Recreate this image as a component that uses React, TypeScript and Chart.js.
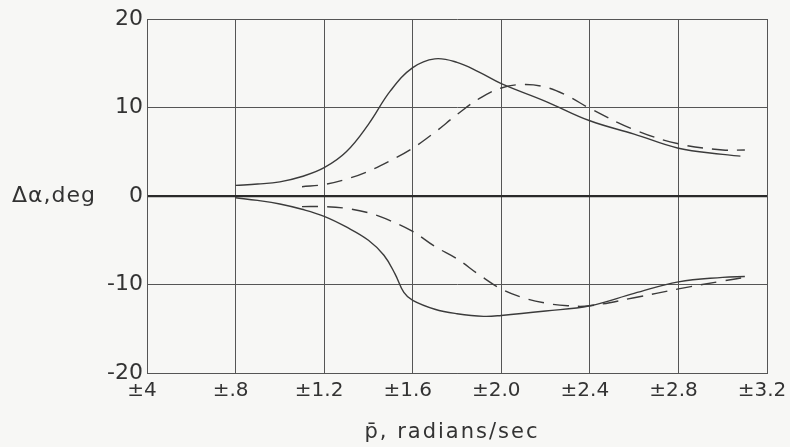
import React, { useEffect, useRef } from "react";
import { Chart, registerables } from "chart.js";

Chart.register(...registerables);

const xTickLabels = ["±4", "±.8", "±1.2", "±1.6", "±2.0", "±2.4", "±2.8", "±3.2"];
const yTickLabels: Record<string, string> = { "20": "20", "10": "10", "0": "0", "-10": "-10", "-20": "-20" };

const upperSolidX = [0.8, 0.9, 1.0, 1.1, 1.2, 1.3, 1.4, 1.5, 1.6, 1.7, 1.8, 1.9, 2.0, 2.2, 2.4, 2.6, 2.8, 3.0, 3.08];
const upperSolidY = [1.2, 1.35, 1.6, 2.2, 3.2, 5.0, 8.1, 11.9, 14.5, 15.5, 15.1, 14.0, 12.7, 10.7, 8.5, 7.0, 5.4, 4.7, 4.5];

const upperDashX = [1.1, 1.2, 1.3, 1.4, 1.5, 1.6, 1.7, 1.8, 1.9, 2.0, 2.1, 2.2, 2.3, 2.4, 2.6, 2.8, 3.0, 3.1];
const upperDashY = [1.05, 1.3, 1.9, 2.8, 4.0, 5.4, 7.2, 9.2, 11.0, 12.2, 12.6, 12.3, 11.3, 9.9, 7.5, 5.9, 5.2, 5.2];

const lowerSolidX = [0.8, 0.9, 1.0, 1.1, 1.2, 1.3, 1.4, 1.47, 1.52, 1.56, 1.6, 1.7, 1.8, 1.92, 2.0, 2.2, 2.4, 2.6, 2.8, 3.0, 3.1];
const lowerSolidY = [-0.2, -0.5, -0.9, -1.5, -2.3, -3.5, -5.0, -6.7, -8.8, -10.9, -11.8, -12.8, -13.3, -13.6, -13.5, -13.0, -12.4, -11.0, -9.7, -9.2, -9.1];

const lowerDashX = [1.1, 1.2, 1.3, 1.4, 1.5, 1.6, 1.7, 1.8, 1.9, 2.0, 2.1, 2.2, 2.3, 2.4, 2.6, 2.8, 3.0, 3.1];
const lowerDashY = [-1.2, -1.2, -1.4, -1.9, -2.8, -4.0, -5.7, -7.1, -8.9, -10.5, -11.5, -12.1, -12.4, -12.4, -11.5, -10.5, -9.6, -9.2];

const yTitle = "Δα,deg";
const xTitle = "p\u0304, radians/sec";

const pts = (xs: number[], ys: number[]) => xs.map((x, i) => ({ x, y: ys[i] }));

const INK = "#3b3b3b";
const GRID = "#555555";
const BG = "#f7f7f5";
const FONT = "'DejaVu Sans', sans-serif";

export default function App() {
  const ref = useRef<HTMLCanvasElement>(null);
  useEffect(() => {
    if (!ref.current) return;
    const bgPlugin = {
      id: "bg",
      beforeDraw(chart: any) {
        const c = chart.ctx;
        c.save();
        c.fillStyle = BG;
        c.fillRect(0, 0, chart.width, chart.height);
        c.restore();
      },
      afterDraw(chart: any) {
        const c = chart.ctx;
        c.save();
        c.fillStyle = "#333333";
        c.font = `22px ${FONT}`;
        (c as any).letterSpacing = "1px";
        c.textAlign = "left";
        c.textBaseline = "middle";
        c.fillText(yTitle, 12, chart.scales.y.getPixelForValue(0));
        c.font = `21px ${FONT}`;
        (c as any).letterSpacing = "2px";
        c.textAlign = "center";
        c.fillText(xTitle, 452, 433);
        c.restore();
      },
    };
    const ds = (data: any[], dashed: boolean) => ({
      data,
      borderColor: INK,
      borderWidth: 1.4,
      borderDash: dashed ? [16, 9] : [],
      pointRadius: 0,
      fill: false,
      tension: 0.4,
    });
    const chart = new Chart(ref.current, {
      type: "line",
      data: {
        datasets: [
          ds(pts(upperSolidX, upperSolidY), false),
          ds(pts(upperDashX, upperDashY), true),
          ds(pts(lowerSolidX, lowerSolidY), false),
          ds(pts(lowerDashX, lowerDashY), true),
        ],
      },
      options: {
        animation: false,
        responsive: false,
        devicePixelRatio: 1,
        layout: { padding: { top: 19, right: 23, left: 0, bottom: 0 } },
        plugins: { legend: { display: false }, tooltip: { enabled: false } },
        scales: {
          x: {
            type: "linear",
            min: 0.4,
            max: 3.2,
            afterFit(scale: any) {
              scale.height = 74;
              scale.paddingLeft = 0;
              scale.paddingRight = 0;
            },
            ticks: {
              stepSize: 0.4,
              autoSkip: false,
              maxRotation: 0,
              padding: 6,
              labelOffset: -5,
              color: "#333333",
              font: { family: FONT, size: 20 },
              callback: (_v: any, i: number) => xTickLabels[i],
            },
            grid: { color: GRID, lineWidth: 1, drawTicks: false },
            border: { display: true, color: GRID, width: 1 },
          },
          y: {
            type: "linear",
            min: -20,
            max: 20,
            afterFit(scale: any) {
              scale.width = 147;
              scale.paddingTop = 0;
              scale.paddingBottom = 0;
            },
            ticks: {
              stepSize: 10,
              padding: 4,
              color: "#333333",
              font: { family: FONT, size: 22 },
              callback: (v: any) => yTickLabels[String(v)] ?? String(v),
            },
            grid: {
              color: (ctx: any) => (ctx.tick && ctx.tick.value === 0 ? "#2a2a2a" : GRID),
              lineWidth: (ctx: any) => (ctx.tick && ctx.tick.value === 0 ? 2.2 : 1),
              drawTicks: false,
            },
            border: { display: true, color: GRID, width: 1 },
          },
        },
      },
      plugins: [bgPlugin],
    });
    return () => chart.destroy();
  }, []);
  return (
    <div style={{ position: "absolute", left: 0, top: 0, width: 790, height: 447, background: BG }}>
      <canvas ref={ref} width={790} height={447} />
    </div>
  );
}
